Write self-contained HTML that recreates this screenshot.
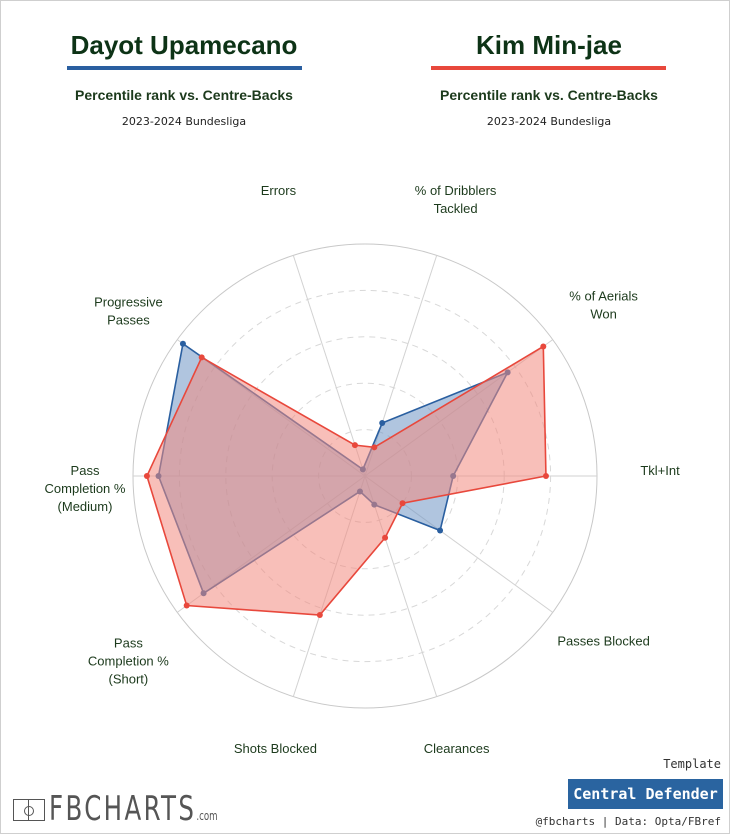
<!DOCTYPE html>
<html><head><meta charset="utf-8"><style>
body{margin:0;background:#fff;font-family:"Liberation Sans",sans-serif;}
#wrap{position:relative;width:728px;height:832px;border:1px solid #cfcfcf;overflow:hidden;background:#fff}
.t{position:absolute;text-align:center;color:#1c3a1c}
</style></head><body>
<div id="wrap">
<div class="t" style="left:58px;top:29px;width:250px;font-size:26px;font-weight:bold;color:#0d3316">Dayot Upamecano</div>
<div style="position:absolute;left:66px;top:65px;width:235px;height:4px;background:#2a5fa0"></div>
<div class="t" style="left:33px;top:86px;width:300px;font-size:14px;font-weight:bold">Percentile rank vs. Centre-Backs</div>
<div class="t" style="left:58px;top:114px;width:250px;font-size:11px;font-family:'DejaVu Sans',sans-serif;color:#222">2023-2024 Bundesliga</div>
<div class="t" style="left:423px;top:29px;width:250px;font-size:26px;font-weight:bold;color:#0d3316">Kim Min-jae</div>
<div style="position:absolute;left:430px;top:65px;width:235px;height:4px;background:#e8483c"></div>
<div class="t" style="left:398px;top:86px;width:300px;font-size:14px;font-weight:bold">Percentile rank vs. Centre-Backs</div>
<div class="t" style="left:423px;top:114px;width:250px;font-size:11px;font-family:'DejaVu Sans',sans-serif;color:#222">2023-2024 Bundesliga</div>
<svg id="radar" width="730" height="834" style="position:absolute;left:-1px;top:-1px"></svg>
<div class="t" style="left:640px;top:756px;width:80px;text-align:right;font-family:'DejaVu Sans Mono',monospace;font-size:12px;color:#333">Template</div>
<div style="position:absolute;left:567px;top:778px;width:155px;height:30px;background:#2a64a0;color:#fff;font-family:'DejaVu Sans Mono',monospace;font-weight:bold;font-size:15px;line-height:30px;text-align:center">Central Defender</div>
<div class="t" style="left:480px;top:814px;width:240px;text-align:right;font-family:'DejaVu Sans Mono',monospace;font-size:11px;color:#333">@fbcharts | Data: Opta/FBref</div>
<div style="position:absolute;left:12px;top:798px;width:30px;height:20px;border:1px solid #555"><div style="position:absolute;left:14px;top:0;width:1px;height:20px;background:#555"></div><div style="position:absolute;left:10px;top:6px;width:8px;height:8px;border:1px solid #555;border-radius:50%"></div></div>
<div style="position:absolute;left:48px;top:788px;font-family:'DejaVu Sans Condensed','Liberation Sans Narrow',sans-serif;font-size:34px;letter-spacing:3px;color:#555;transform:scaleX(0.8);transform-origin:left">FBCHARTS<span style="font-size:12px;letter-spacing:0">.com</span></div>
</div>
<script>
const categories=["Errors","% of Dribblers\nTackled","% of Aerials\nWon","Tkl+Int","Passes Blocked","Clearances","Shots Blocked","Pass\nCompletion %\n(Short)","Pass\nCompletion %\n(Medium)","Progressive\nPasses"];
const upamecano=[3,24,76,38,40,13,7,86,89,97];
const kim=[14,13,95,78,20,28,63,95,94,87];
const gridLevels=[20,40,60,80,100];
// label layout nudges (styling, not data)
const labelNudgeX=[3,1,4,5,4,2,0,-2,10,-2];
const labelNudgeY=[-9,0,0,-5,-5,-3,-3,15,13,6];
const svg=document.getElementById('radar');
const NS='http://www.w3.org/2000/svg';
const cx=365,cy=476,R=232;
function ang(i){return (-18+36*i)*Math.PI/180;}
function pt(i,v){const a=ang(i),r=R*v/100;return [cx+r*Math.sin(a),cy-r*Math.cos(a)];}
function mk(t,attrs){const e=document.createElementNS(NS,t);for(const k in attrs)e.setAttribute(k,attrs[k]);svg.appendChild(e);return e;}
gridLevels.forEach(g=>{const c=mk('circle',{cx:cx,cy:cy,r:R*g/100,fill:'none',stroke:g===100?'#c8c8c8':'#d8d8d8','stroke-width':1,'stroke-dasharray':g===100?'none':'6,5'});

});
categories.forEach((c,i)=>{const [x,y]=pt(i,100);const l=mk('line',{x1:cx,y1:cy,x2:x,y2:y,stroke:'#d2d2d2','stroke-width':1});


let [lx,ly]=pt(i,125);lx+=labelNudgeX[i];ly+=labelNudgeY[i];
const lines=c.split('\n');const tx=mk('text',{x:lx,'text-anchor':'middle','font-size':13,fill:'#1c3a1c','font-family':'Liberation Sans, sans-serif'});


lines.forEach((s,k)=>{const ts=document.createElementNS(NS,'tspan');ts.setAttribute('x',lx);ts.setAttribute('y',ly+4+(k-(lines.length-1)/2)*18);ts.textContent=s;tx.appendChild(ts);});});
function series(vals,fill,stroke,name){const pts=vals.map((v,i)=>pt(i,v));
const p=mk('polygon',{points:pts.map(p=>p.join(',')).join(' '),fill:fill,'fill-opacity':0.55,stroke:stroke,'stroke-width':1.6});


pts.forEach(q=>{const c=mk('circle',{cx:q[0],cy:q[1],r:3,fill:stroke});

});}
series(upamecano,'#6f96c4','#2a5fa0','upamecano');
series(kim,'#f28a7f','#e8483c','kim');
</script>
</body></html>
